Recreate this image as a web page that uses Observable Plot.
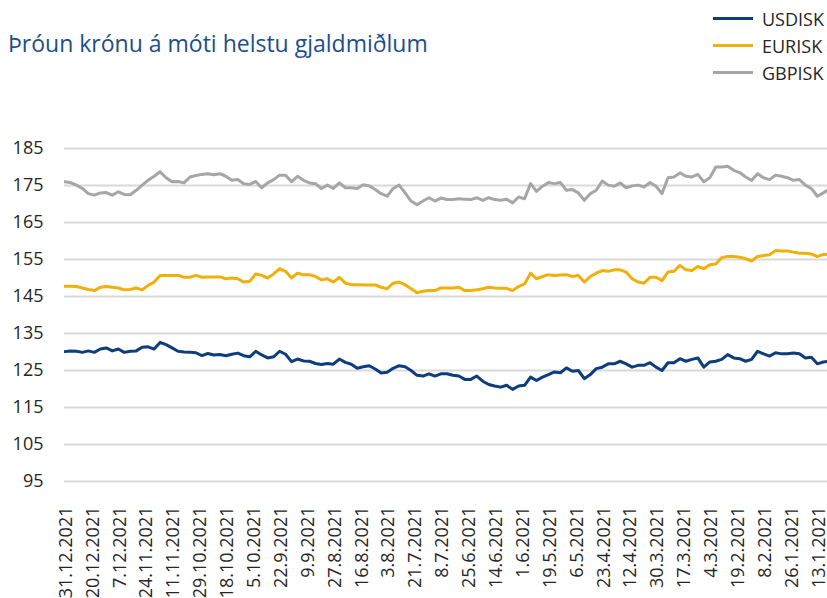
<!DOCTYPE html>
<html><head><meta charset="utf-8">
<script src="https://cdn.jsdelivr.net/npm/d3@7"></script>
<script src="https://cdn.jsdelivr.net/npm/@observablehq/plot@0.6"></script>
<style>
body{margin:0;background:#fff;font-family:"Open Sans",sans-serif;}
#wrap{position:relative;width:827px;height:598px;overflow:hidden;background:#fff;}
#title{position:absolute;left:8px;top:27px;font-size:23px;color:#1C4E8E;white-space:nowrap;}
#legend{position:absolute;left:713px;top:5px;}
.li{display:flex;align-items:center;height:27px;font-size:18px;color:#262626;}
.sw{width:40px;height:3px;margin-right:9px;}
#chart{position:absolute;left:0;top:0;}
</style></head><body>
<div id="wrap"><div id="chart"></div><div id="title">Þróun krónu á móti helstu gjaldmiðlum</div><div id="legend"></div></div>
<script>
const seriesNames = ["USDISK", "EURISK", "GBPISK"];
const seriesColors = ["#0D3D7C", "#F0B00A", "#A6A6A6"];
const yTicks = [95, 105, 115, 125, 135, 145, 155, 165, 175, 185];
const tickLabels = ["31.12.2021","20.12.2021","7.12.2021","24.11.2021","11.11.2021","29.10.2021","18.10.2021","5.10.2021","22.9.2021","9.9.2021","27.8.2021","16.8.2021","3.8.2021","21.7.2021","8.7.2021","25.6.2021","14.6.2021","1.6.2021","19.5.2021","6.5.2021","23.4.2021","12.4.2021","30.3.2021","17.3.2021","4.3.2021","19.2.2021","8.2.2021","26.1.2021","13.1.2021"];
const labelEvery = 9;   // trading days between labels
const sampleStep = 2;   // trading days between samples below

const usdisk = [130.1,130.3,130.2,129.9,130.3,129.9,130.8,131.1,130.3,130.8,
129.9,130.2,130.3,131.3,131.4,130.8,132.6,132.0,131.1,130.2,
130.0,129.9,129.8,129.0,129.6,129.2,129.3,129.0,129.4,129.7,
129.0,128.7,130.2,129.2,128.4,128.7,130.2,129.4,127.4,128.1,
127.6,127.5,126.9,126.6,126.9,126.7,128.1,127.2,126.7,125.6,
126.0,126.3,125.4,124.3,124.5,125.6,126.3,126.0,125.0,123.7,
123.5,124.1,123.5,124.1,124.1,123.7,123.5,122.6,122.6,123.5,
122.1,121.2,120.8,120.5,121.0,119.9,120.8,121.0,123.2,122.3,
123.2,123.9,124.6,124.4,125.7,124.8,125.0,122.8,123.9,125.5,
125.9,126.8,126.8,127.5,126.8,125.9,126.4,126.4,127.1,125.9,
125.0,127.1,127.1,128.2,127.5,128.0,128.4,125.9,127.3,127.5,
128.0,129.3,128.4,128.2,127.5,128.0,130.2,129.5,128.9,129.8,
129.5,129.5,129.7,129.5,128.4,128.6,126.8,127.3,127.5,127.6];

const eurisk = [147.8,147.8,147.7,147.3,146.9,146.6,147.5,147.7,147.5,147.3,
146.8,146.9,147.3,146.8,148.0,148.9,150.7,150.7,150.7,150.7,
150.2,150.2,150.7,150.2,150.3,150.3,150.3,149.8,150.0,149.8,
148.9,149.1,151.1,150.7,150.0,151.1,152.5,151.8,150.0,151.3,
150.9,150.9,150.4,149.5,149.8,148.9,150.2,148.6,148.2,148.2,
148.1,148.1,148.1,147.5,147.1,148.6,148.9,148.2,147.1,146.0,
146.4,146.6,146.6,147.3,147.3,147.3,147.5,146.6,146.6,146.8,
147.1,147.5,147.3,147.2,147.2,146.6,147.7,148.4,151.3,149.8,
150.4,150.9,150.7,150.8,150.9,150.4,150.7,148.9,150.4,151.3,
152.0,151.8,152.2,152.2,151.6,149.8,148.9,148.6,150.2,150.2,
149.3,151.6,151.8,153.4,152.2,152.0,153.1,152.5,153.6,153.8,
155.5,155.8,155.8,155.6,155.2,154.6,155.8,156.1,156.3,157.4,
157.3,157.3,157.0,156.7,156.7,156.5,155.8,156.4,156.3,156.0];

const gbpisk = [176.0,175.8,175.1,174.2,172.8,172.4,173.0,173.1,172.4,173.3,
172.6,172.5,173.7,175.1,176.4,177.5,178.7,177.1,176.0,176.1,
175.7,177.3,177.7,178.0,178.2,177.9,178.2,177.5,176.4,176.6,
175.5,175.3,176.1,174.4,175.7,176.6,177.8,177.8,176.0,177.5,
176.4,175.7,175.5,174.2,175.1,174.2,175.7,174.4,174.4,174.2,
175.2,174.9,173.9,172.8,172.1,174.2,175.1,173.0,170.8,169.8,
170.8,171.7,170.8,171.6,171.2,171.2,171.4,171.3,171.2,171.7,
171.0,171.7,171.2,171.0,171.3,170.3,171.9,171.4,175.5,173.4,
174.8,175.8,175.5,175.8,173.7,173.9,173.0,171.0,172.8,173.7,
176.2,175.1,174.8,175.7,174.4,174.9,175.1,174.6,175.8,174.8,
172.8,177.1,177.3,178.4,177.5,177.3,178.0,176.0,177.1,180.0,
180.0,180.2,179.1,178.5,177.3,176.4,178.2,177.1,176.6,177.8,
177.5,177.1,176.4,176.6,175.1,174.2,172.1,173.0,174.0,175.0];

const seriesValues = [usdisk, eurisk, gbpisk];
const rows = [];
seriesValues.forEach((arr, s) => arr.forEach((v, k) => rows.push({series: seriesNames[s], day: k * sampleStep, value: v})));
const labelDays = tickLabels.map((_, j) => j * labelEvery);

const chart = Plot.plot({
  width: 827, height: 598,
  marginTop: 148, marginBottom: 117, marginLeft: 64, marginRight: 0,
  style: {fontFamily: "'Open Sans', sans-serif", fontSize: "18px", color: "#262626", background: "transparent"},
  x: {domain: [0, 255.4], axis: null, label: null},
  y: {domain: [95, 185], axis: null, label: null},
  color: {domain: seriesNames, range: seriesColors},
  marks: [
    Plot.gridY(yTicks, {stroke: "#D9D9D9", strokeOpacity: 1, strokeWidth: 2}),
    Plot.axisY(yTicks, {tickSize: 0, tickPadding: 21, fontSize: 18, fill: "#262626", label: null}),
    Plot.axisX(labelDays, {tickSize: 0, tickPadding: 25, tickRotate: -90, fontSize: 18, fill: "#262626", dx: 1.5, label: null, tickFormat: d => tickLabels[d / labelEvery]}),
    Plot.line(rows, {x: "day", y: "value", z: "series", stroke: "series", strokeWidth: 3, strokeLinejoin: "round", clip: true})
  ]
});
document.getElementById("chart").appendChild(chart);

const legend = document.getElementById("legend");
seriesNames.forEach((name, i) => {
  const row = document.createElement("div");
  row.className = "li";
  const sw = document.createElement("div");
  sw.className = "sw";
  sw.style.background = seriesColors[i];
  const t = document.createElement("span");
  t.textContent = name;
  row.appendChild(sw); row.appendChild(t);
  legend.appendChild(row);
});
</script>
</body></html>
